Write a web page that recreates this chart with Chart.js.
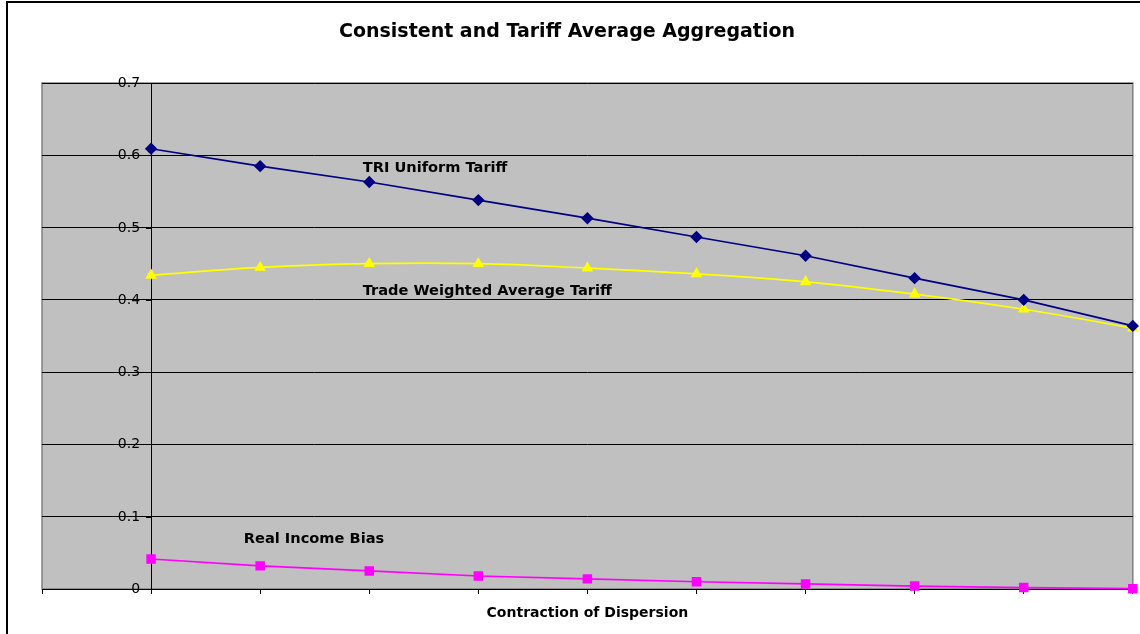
<!DOCTYPE html>
<html>
<head>
<meta charset="utf-8">
<script src="https://cdn.jsdelivr.net/npm/chart.js@4.4.0/dist/chart.umd.min.js"></script>
<style>
    body { margin: 0; background: #fff; overflow: hidden; }
    #wrap { position: relative; width: 1140px; height: 634px; }
    #frame { position: absolute; left: 6px; top: 1px; width: 1200px; height: 700px; border: 2px solid #000; box-sizing: border-box; pointer-events: none; }
</style>
</head>
<body>
<div id="wrap">
    <canvas id="aggChart" width="1140" height="634"></canvas>
    <div id="frame"></div>
</div>
<script>
// positions along the x axis (1..10, the y axis sits at 1)
const steps = [1, 2, 3, 4, 5, 6, 7, 8, 9, 10];
const triUniform = [0.609, 0.585, 0.563, 0.538, 0.513, 0.487, 0.461, 0.430, 0.400, 0.364];
const tradeWeighted = [0.434, 0.445, 0.450, 0.450, 0.444, 0.436, 0.425, 0.408, 0.387, 0.361];
const realIncomeBias = [0.0415, 0.032, 0.025, 0.018, 0.014, 0.010, 0.007, 0.004, 0.002, 0.0005];
const yTicks = [0, 0.1, 0.2, 0.3, 0.4, 0.5, 0.6, 0.7];

const titleText = 'Consistent and Tariff Average Aggregation';
const xTitle = 'Contraction of Dispersion';
// series labels placed in data coordinates
const seriesLabels = [
    { text: 'TRI Uniform Tariff', x: 2.94, y: 0.582 },
    { text: 'Trade Weighted Average Tariff', x: 2.94, y: 0.412 },
    { text: 'Real Income Bias', x: 1.85, y: 0.069 }
];

const pts = arr => steps.map((s, i) => ({ x: s, y: arr[i] }));

const excelLook = {
    id: 'excelLook',
    beforeDraw(chart) {
        const { ctx, chartArea: a } = chart;
        ctx.save();
        ctx.fillStyle = '#c0c0c0';
        ctx.fillRect(a.left, a.top, a.right - a.left, a.bottom - a.top);
        ctx.strokeStyle = '#808080';
        ctx.lineWidth = 1.5;
        ctx.strokeRect(a.left, a.top, a.right - a.left, a.bottom - a.top);
        ctx.restore();
    },
    afterDraw(chart) {
        const { ctx, chartArea: a } = chart;
        const xs = chart.scales.x, ys = chart.scales.y;
        const axisX = xs.getPixelForValue(1);
        ctx.save();
        // y tick marks and labels on the left of the crossing axis
        ctx.strokeStyle = '#000';
        ctx.lineWidth = 1;
        ctx.fillStyle = '#000';
        ctx.font = '14px "DejaVu Sans"';
        ctx.textAlign = 'right';
        ctx.textBaseline = 'middle';
        ys.ticks.forEach(t => {
            const py = Math.round(ys.getPixelForValue(t.value)) + 0.5;
            ctx.beginPath();
            ctx.moveTo(axisX - 5, py);
            ctx.lineTo(axisX, py);
            ctx.stroke();
            ctx.fillText(String(t.value), axisX - 11, py);
        });
        ctx.textAlign = 'center';
        ctx.font = 'bold 19px "DejaVu Sans"';
        ctx.fillText(titleText, 567, 32);
        ctx.font = 'bold 14px "DejaVu Sans"';
        ctx.fillText(xTitle, (a.left + a.right) / 2, 613);
        ctx.textAlign = 'left';
        ctx.font = 'bold 14.6px "DejaVu Sans"';
        seriesLabels.forEach(l => {
            ctx.fillText(l.text, xs.getPixelForValue(l.x), ys.getPixelForValue(l.y));
        });
        ctx.restore();
    }
};

new Chart(document.getElementById('aggChart'), {
    type: 'line',
    data: {
        datasets: [
            {
                label: 'TRI Uniform Tariff',
                data: pts(triUniform),
                borderColor: '#000080',
                backgroundColor: '#000080',
                borderWidth: 1.7,
                pointStyle: 'rectRot',
                pointRadius: 5,
                tension: 0
            },
            {
                label: 'Trade Weighted Average Tariff',
                data: pts(tradeWeighted),
                borderColor: '#ffff00',
                backgroundColor: '#ffff00',
                borderWidth: 1.7,
                pointStyle: 'triangle',
                pointRadius: 5,
                tension: 0.4
            },
            {
                label: 'Real Income Bias',
                data: pts(realIncomeBias),
                borderColor: '#ff00ff',
                backgroundColor: '#ff00ff',
                borderWidth: 1.7,
                pointStyle: 'rect',
                pointRadius: 5.5,
                tension: 0
            }
        ]
    },
    options: {
        responsive: false,
        animation: false,
        clip: false,
        layout: { padding: { left: 42, right: 6, top: 83, bottom: 45 } },
        plugins: { legend: { display: false }, title: { display: false }, tooltip: { enabled: false } },
        scales: {
            x: {
                type: 'linear',
                min: 0,
                max: 10,
                afterFit: s => { s.height = 0; },
                ticks: { display: false, stepSize: 1 },
                grid: { drawOnChartArea: false, drawTicks: true, tickLength: 5, color: '#000' },
                border: { color: '#000', width: 1 }
            },
            y: {
                min: 0,
                max: 0.7,
                position: { x: 1 },
                afterBuildTicks: s => { s.ticks = yTicks.map(v => ({ value: v })); },
                ticks: { display: false },
                grid: { color: '#000', lineWidth: 1, drawTicks: false },
                border: { color: '#000', width: 1 }
            }
        }
    },
    plugins: [excelLook]
});
</script>
</body>
</html>
